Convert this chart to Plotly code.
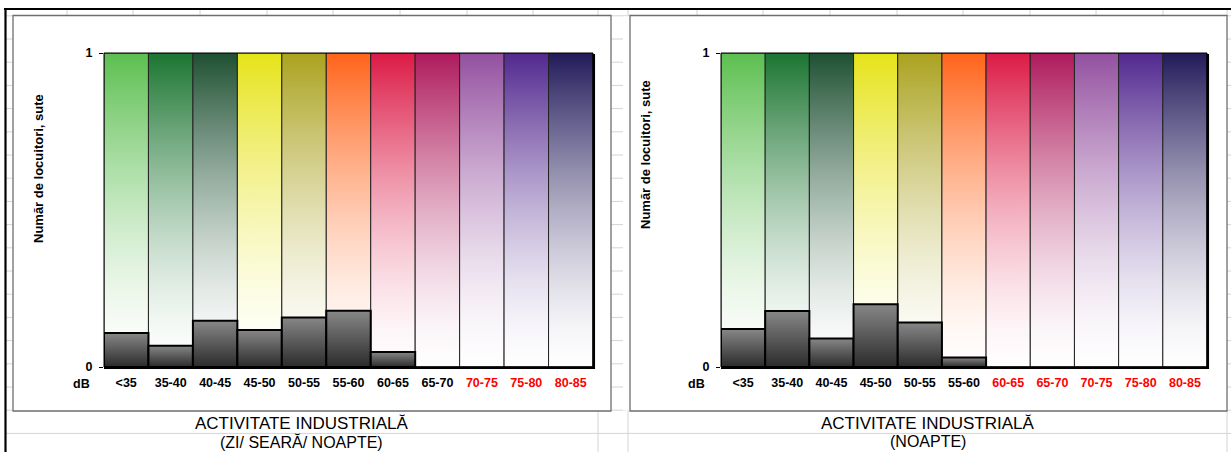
import plotly.graph_objects as go

# ---------------- data ----------------
categories = ["<35", "35-40", "40-45", "45-50", "50-55", "55-60",
              "60-65", "65-70", "70-75", "75-80", "80-85"]
values_zi_seara_noapte = [0.108, 0.068, 0.147, 0.118, 0.158, 0.179, 0.048, 0, 0, 0, 0]
values_noapte = [0.121, 0.178, 0.091, 0.200, 0.142, 0.030, 0, 0, 0, 0, 0]
band_colors = ["#5CBF50", "#1B7531", "#1E5032", "#E6E31A", "#ABA21F", "#FF6419",
               "#DC1A46", "#AE1A5C", "#9350A0", "#52288F", "#221A5A"]
red_from_zi = 8        # first label drawn in red, chart 1
red_from_noapte = 6    # first label drawn in red, chart 2
y_ticks = [0, 1]
y_max = 1
chart_title = "ACTIVITATE INDUSTRIALĂ"
subtitles = ["(ZI/ SEARĂ/ NOAPTE)", "(NOAPTE)"]
y_title = "Număr de locuitori, sute"

W, H = 1231, 452
FONT = "Liberation Sans, Arial, sans-serif"


def px(x):
    return x / W


def py(y):
    return 1 - y / H


def fade_scale(hex_color, gamma=1.5, steps=8):
    r, g, b = (int(hex_color[k:k + 2], 16) for k in (1, 3, 5))
    scale = []
    for s in range(steps + 1):
        t = s / steps
        f = t ** gamma
        c = [round(255 + (v - 255) * f) for v in (r, g, b)]
        scale.append([t, "rgb({},{},{})".format(*c)])
    return scale


fig = go.Figure()

panels = [
    dict(values=values_zi_seara_noapte, red_from=red_from_zi, xa="x", ya="y",
         plot=(104, 593), frame=(13, 611), ytitle=(38, 169), db=81, sub=subtitles[0],
         cell=(5, 598)),
    dict(values=values_noapte, red_from=red_from_noapte, xa="x2", ya="y2",
         plot=(721, 1207), frame=(630, 1227), ytitle=(645, 155), db=696, sub=subtitles[1],
         cell=(628, 1227)),
]
PLOT_TOP, PLOT_BOT = 53, 367

for p in panels:
    for i, cat in enumerate(categories):
        # background band (full axis height) with vertical colour gradient
        fig.add_trace(go.Scatter(
            x=[i - 0.5, i + 0.5, i + 0.5, i - 0.5, i - 0.5],
            y=[0, 0, y_max, y_max, 0],
            xaxis=p["xa"], yaxis=p["ya"], mode="lines", fill="toself",
            line=dict(color="#222222", width=1),
            fillgradient=dict(type="vertical", colorscale=fade_scale(band_colors[i])),
            hoverinfo="skip", showlegend=False))
    for i, cat in enumerate(categories):
        v = p["values"][i]
        if v <= 0:
            continue
        fig.add_trace(go.Scatter(
            x=[i - 0.5, i + 0.5, i + 0.5, i - 0.5, i - 0.5],
            y=[0, 0, v, v, 0],
            xaxis=p["xa"], yaxis=p["ya"], mode="lines", fill="toself",
            line=dict(color="#000000", width=2),
            fillgradient=dict(type="vertical", colorscale=[[0, "#2B2B2B"], [1, "#878787"]]),
            hoverinfo="skip", showlegend=False))

shapes = []
# spreadsheet grid (drawn first, then covered by chart areas)
row_ys = [15.8 + 23.2 * k for k in range(19)]
for y in row_ys:
    shapes.append(dict(type="line", xref="paper", yref="paper", layer="below",
                       x0=px(5), x1=px(1231), y0=py(y), y1=py(y),
                       line=dict(color="#D4D4D4", width=1)))
col_xs = [67, 133, 200, 267, 333, 400, 467, 533, 598, 628, 697, 763, 830, 897,
          963, 1030, 1096, 1163, 1227]
for x in col_xs:
    shapes.append(dict(type="line", xref="paper", yref="paper", layer="below",
                       x0=px(x), x1=px(x), y0=py(9), y1=py(16),
                       line=dict(color="#D4D4D4", width=1)))
for x in [598, 628, 1227]:
    shapes.append(dict(type="line", xref="paper", yref="paper", layer="below",
                       x0=px(x), x1=px(x), y0=py(411), y1=py(452),
                       line=dict(color="#D4D4D4", width=1)))
# white strip at left of chart 2
shapes.append(dict(type="rect", xref="paper", yref="paper", layer="below",
                   x0=px(623), x1=px(630), y0=py(16.5), y1=py(410.5),
                   fillcolor="white", line=dict(width=0)))
for p in panels:
    f0, f1 = p["frame"]
    shapes.append(dict(type="rect", xref="paper", yref="paper", layer="below",
                       x0=px(f0), x1=px(f1), y0=py(411), y1=py(15.5),
                       fillcolor="white", line=dict(color="#6E6E6E", width=1.3)))
    x0, x1 = p["plot"]
    # plot-area frame + shadow
    shapes.append(dict(type="rect", xref="paper", yref="paper", layer="above",
                       x0=px(x0), x1=px(x1), y0=py(PLOT_BOT), y1=py(PLOT_TOP),
                       line=dict(color="#000000", width=1)))
    shapes.append(dict(type="line", xref="paper", yref="paper", layer="above",
                       x0=px(x1 + 0.8), x1=px(x1 + 0.8), y0=py(PLOT_BOT + 2), y1=py(PLOT_TOP + 1),
                       line=dict(color="#000000", width=2.5)))
    shapes.append(dict(type="line", xref="paper", yref="paper", layer="above",
                       x0=px(x0), x1=px(x1 + 2), y0=py(PLOT_BOT + 0.8), y1=py(PLOT_BOT + 0.8),
                       line=dict(color="#000000", width=2.5)))
# outer black borders
shapes.append(dict(type="line", xref="paper", yref="paper", layer="above",
                   x0=px(4), x1=px(1231), y0=py(9), y1=py(9),
                   line=dict(color="#000000", width=2.2)))
shapes.append(dict(type="line", xref="paper", yref="paper", layer="above",
                   x0=px(5.5), x1=px(5.5), y0=py(8), y1=py(452),
                   line=dict(color="#000000", width=2.2)))

annotations = []
for p in panels:
    annotations.append(dict(text="<b>" + y_title + "</b>", textangle=-90, showarrow=False,
                            xref="paper", yref="paper", x=px(p["ytitle"][0]), y=py(p["ytitle"][1]),
                            xanchor="center", yanchor="middle",
                            font=dict(family=FONT, size=13, color="#000000")))
    annotations.append(dict(text="<b>dB</b>", showarrow=False, xref="paper", yref="paper",
                            x=px(p["db"]), y=py(384), xanchor="center", yanchor="middle",
                            font=dict(family=FONT, size=12.5, color="#000000")))
    c0, c1 = p["cell"]
    annotations.append(dict(text=chart_title, showarrow=False, xref="paper", yref="paper",
                            x=px((c0 + c1) / 2), y=py(423.5), xanchor="center", yanchor="middle",
                            font=dict(family=FONT, size=17, color="#000000")))
    annotations.append(dict(text=p["sub"], showarrow=False, xref="paper", yref="paper",
                            x=px((c0 + c1) / 2), y=py(441.5), xanchor="center", yanchor="middle",
                            font=dict(family=FONT, size=16, color="#000000")))

layout = dict(
    width=W, height=H, margin=dict(l=0, r=0, t=0, b=0, pad=0, autoexpand=False),
    paper_bgcolor="white", plot_bgcolor="white",
    shapes=shapes, annotations=annotations, showlegend=False,
)
for idx, p in enumerate(panels):
    sfx = "" if idx == 0 else "2"
    ticktext = [c if i < p["red_from"] else "<span style='color:#FF0000'>" + c + "</span>"
                for i, c in enumerate(categories)]
    layout["xaxis" + sfx] = dict(
        domain=[px(p["plot"][0]), px(p["plot"][1])], range=[-0.5, len(categories) - 0.5],
        tickvals=list(range(len(categories))), ticktext=ticktext,
        showgrid=False, zeroline=False, showline=False, ticks="", automargin=False,
        tickfont=dict(family=FONT, size=12.5, color="#000000", weight="bold"),
        ticklabelstandoff=6, anchor="y" + sfx, fixedrange=True)
    layout["yaxis" + sfx] = dict(
        domain=[py(PLOT_BOT), py(PLOT_TOP)], range=[0, y_max],
        tickvals=y_ticks, ticktext=[str(t) for t in y_ticks],
        showgrid=False, zeroline=False, showline=False, automargin=False,
        ticks="outside", ticklen=4, tickcolor="#000000", tickwidth=1,
        tickfont=dict(family=FONT, size=12.5, color="#000000", weight="bold"),
        ticklabelstandoff=4, anchor="x" + sfx, fixedrange=True)

fig.update_layout(**layout)
fig.write_html("out.html")
